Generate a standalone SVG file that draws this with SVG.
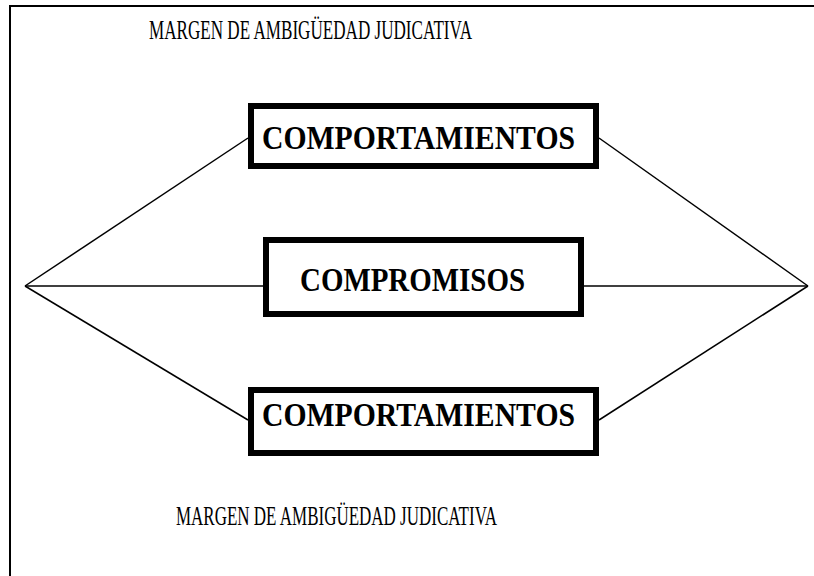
<svg xmlns="http://www.w3.org/2000/svg" width="814" height="576" viewBox="0 0 814 576">
<style>
.frame{stroke:#000;stroke-width:2;fill:none}
.box{fill:#fff;stroke:#000;stroke-width:6}
.conn{stroke:#000;stroke-width:1.5;fill:none}
.title{font-family:"Liberation Serif","Times New Roman",serif;font-size:27px;fill:#000}
.lbl{font-family:"Liberation Serif","Times New Roman",serif;font-size:33px;font-weight:bold;fill:#000}
</style>
<rect width="814" height="576" fill="#fff"/>
<g id="frame">
<path class="frame" d="M10,576 L10,6 L814,6"/>
</g>
<g id="connectors">
<line class="conn" x1="25" y1="286" x2="248" y2="138"/>
<line class="conn" x1="25" y1="286" x2="263" y2="286"/>
<line class="conn" x1="25" y1="286" x2="248" y2="420"/>
<line class="conn" x1="599" y1="138" x2="808" y2="286"/>
<line class="conn" x1="584" y1="286" x2="808" y2="286"/>
<line class="conn" x1="599" y1="420" x2="808" y2="286"/>
</g>
<g id="title-top">
<text class="title" x="149" y="39" textLength="323" lengthAdjust="spacingAndGlyphs">MARGEN DE AMBIGÜEDAD JUDICATIVA</text>
</g>
<g id="node-comportamientos-1">
<rect class="box" x="251" y="106" width="345" height="60"/>
<text class="lbl" x="262" y="149" textLength="313" lengthAdjust="spacingAndGlyphs">COMPORTAMIENTOS</text>
</g>
<g id="node-compromisos">
<rect class="box" x="266" y="240" width="315" height="74"/>
<text class="lbl" x="300" y="291" textLength="225" lengthAdjust="spacingAndGlyphs">COMPROMISOS</text>
</g>
<g id="node-comportamientos-2">
<rect class="box" x="251" y="390" width="345" height="63"/>
<text class="lbl" x="262" y="426" textLength="313" lengthAdjust="spacingAndGlyphs">COMPORTAMIENTOS</text>
</g>
<g id="title-bottom">
<text class="title" x="176" y="525" textLength="321" lengthAdjust="spacingAndGlyphs">MARGEN DE AMBIGÜEDAD JUDICATIVA</text>
</g>
</svg>
